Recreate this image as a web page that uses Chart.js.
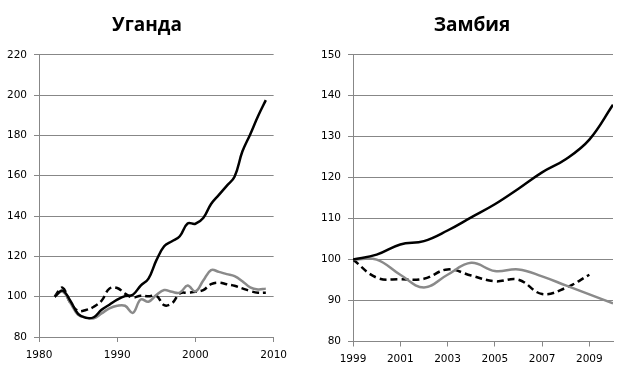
<!DOCTYPE html>
<html>
<head>
<meta charset="utf-8">
<script src="https://cdn.jsdelivr.net/npm/chart.js@4/dist/chart.umd.min.js"></script>
<style>
  html, body { margin: 0; padding: 0; background: #fff; }
  body { width: 627px; height: 376px; position: relative; overflow: hidden; }
  #wrap1 { position: absolute; left: 0; top: 0; width: 294px; height: 376px; }
  #wrap2 { position: absolute; left: 318px; top: 0; width: 308px; height: 376px; }
</style>
</head>
<body>
<div id="wrap1"><canvas id="m1"></canvas></div>
<div id="wrap2"><canvas id="m2"></canvas></div>
<script>
// Уганда
var ugYears = [1982,1983,1984,1985,1986,1987,1988,1989,1990,1991,1992,1993,1994,1995,
               1996,1997,1998,1999,2000,2001,2002,2003,2004,2005,2006,2007,2008,2009];
var ugBlack = [100,103,98,91.5,89.5,89.8,93.5,96,98.5,100.3,101,105.5,109,118,
               125,127.5,130,136.3,136.2,139,146,150.5,155,159.5,172,180.5,189.5,197.5];
var ugGrey  = [100,102.5,97,91,89.7,89.3,91.7,94.2,95.5,95.5,92,98.6,97.5,100.8,
               103.3,102.4,102,105.5,102.6,108,113.2,112.3,111.2,110.2,107.7,104.6,103.6,104];
var ugDash  = [100,104.5,97,93,93.4,95,98,104,104.3,101.5,99.6,100.5,100.2,100.5,
               95.8,96.7,101.6,102,102.4,103.3,106.2,107,106.2,105.4,104.1,102.8,102,102];
var ugXTicks = [1980,1990,2000,2010];
var ugYTicks = [80,100,120,140,160,180,200,220];

// Замбия
var zmYears = [1999,2000,2001,2002,2003,2004,2005,2006,2007,2008,2009,2010];
var zmBlack = [100,101.2,103.7,104.5,107.1,110.3,113.5,117.3,121.3,124.5,129.3,137.8];
var zmGrey  = [100,100,96.3,93.2,96.3,99.2,97.2,97.6,95.9,93.7,91.5,89.3];
var zmDash  = [100,95.6,95.2,95.3,97.6,96.1,94.7,95.1,91.6,93.1,96.3];
var zmXTicks = [1999,2001,2003,2005,2007,2009];
var zmYTicks = [80,90,100,110,120,130,140,150];

var gridCol = '#878787';
var tickFont = { family: 'DejaVu Sans', size: 10.5 };

function pts(xs, ys) {
  var out = [];
  for (var i = 0; i < ys.length; i++) out.push({ x: xs[i], y: ys[i] });
  return out;
}

// centre the title over the whole canvas, not only the padded part
var titleCentre = {
  id: 'titleCentre',
  afterLayout: function(chart) {
    if (chart.titleBlock) {
      chart.titleBlock.left = 0;
      chart.titleBlock.right = chart.width;
    }
  }
};

function makeChart(id, title, years, black, grey, dash, xTicks, yTicks, yWidth, xHeight, xPad, padRight) {
  var ctx = document.getElementById(id).getContext('2d');
  return new Chart(ctx, {
    type: 'line',
    data: {
      datasets: [
        { data: pts(years, black), borderColor: '#000', borderWidth: 2.5, pointRadius: 0, tension: 0.4 },
        { data: pts(years, grey), borderColor: '#8a8a8a', borderWidth: 2.5, pointRadius: 0, tension: 0.4 },
        { data: pts(years, dash), borderColor: '#000', borderWidth: 2.5, borderDash: [7, 4], pointRadius: 0, tension: 0.4 }
      ]
    },
    plugins: [titleCentre],
    options: {
      responsive: true,
      maintainAspectRatio: false,
      animation: false,
      layout: { padding: { left: 0, right: padRight, top: 0, bottom: 0 } },
      plugins: {
        legend: { display: false },
        tooltip: { enabled: false },
        title: {
          display: true,
          text: title,
          color: '#000',
          font: { family: 'Open Sans', size: 19, weight: 'bold' },
          padding: { top: 14, bottom: 18 }
        }
      },
      scales: {
        x: {
          type: 'linear',
          min: xTicks[0],
          max: years[years.length - 1] > xTicks[xTicks.length - 1] ? years[years.length - 1] : xTicks[xTicks.length - 1],
          afterBuildTicks: function(s) { s.ticks = xTicks.map(function(v) { return { value: v }; }); },
          afterFit: function(s) { s.height = xHeight; },
          grid: { drawOnChartArea: false, drawTicks: true, tickLength: 5, color: gridCol },
          border: { display: true, color: gridCol, width: 1 },
          ticks: { color: '#000', font: tickFont, padding: xPad, maxRotation: 0, autoSkip: false,
                   callback: function(v) { return String(v); } }
        },
        y: {
          type: 'linear',
          min: yTicks[0],
          max: yTicks[yTicks.length - 1],
          afterBuildTicks: function(s) { s.ticks = yTicks.map(function(v) { return { value: v }; }); },
          afterFit: function(s) { s.width = yWidth; },
          grid: { drawOnChartArea: true, drawTicks: true, tickLength: 5, color: gridCol },
          border: { display: true, color: gridCol, width: 1 },
          ticks: { color: '#000', font: tickFont, padding: 7, autoSkip: false }
        }
      }
    }
  });
}

var chart1 = makeChart('m1', 'Уганда', ugYears, ugBlack, ugGrey, ugDash, ugXTicks, ugYTicks, 39, 39, 7, 19);
var chart2 = makeChart('m2', 'Замбия', zmYears, zmBlack, zmGrey, zmDash, zmXTicks, zmYTicks, 35, 34.5, 6, 13);
</script>
</body>
</html>
